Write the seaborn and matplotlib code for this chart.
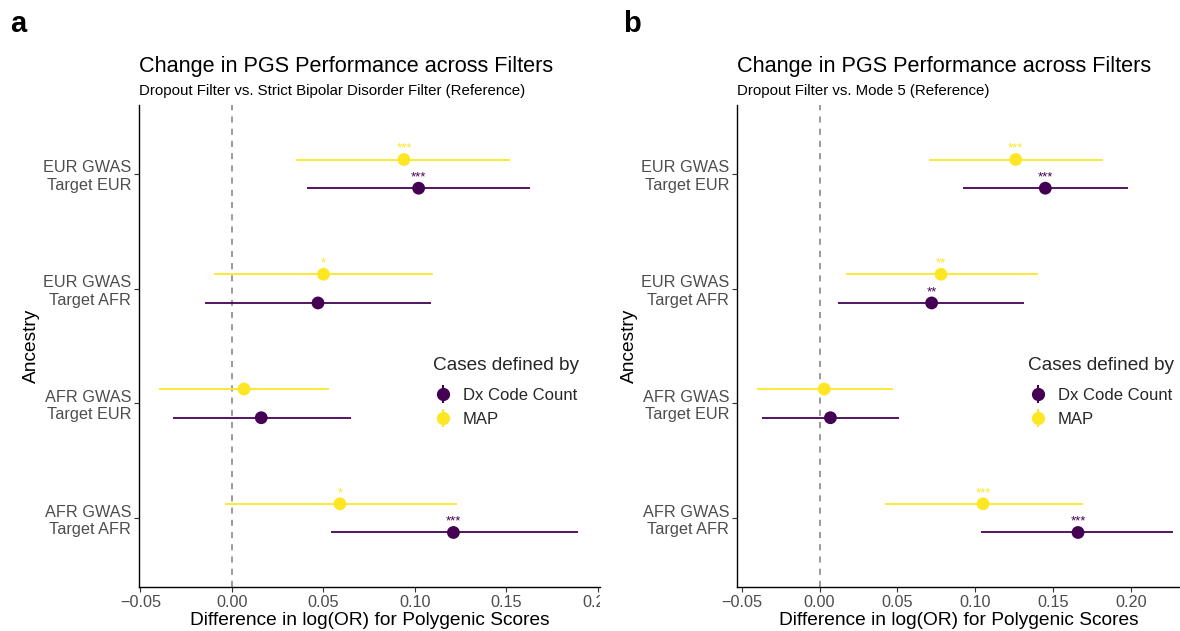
import numpy as np
import pandas as pd
import matplotlib
matplotlib.use("Agg")
import matplotlib.pyplot as plt
import seaborn as sns
from matplotlib.lines import Line2D
from matplotlib.legend_handler import HandlerTuple
from matplotlib.transforms import Bbox, TransformedBbox

sns.set_theme(style="white")
plt.rcParams['font.family'] = ['Liberation Sans', 'DejaVu Sans']

# ---------------- data ----------------
ancestry = ["EUR GWAS\nTarget EUR", "EUR GWAS\nTarget AFR", "AFR GWAS\nTarget EUR", "AFR GWAS\nTarget AFR"]
groups = ["Dx Code Count", "MAP"]

# panel a: Dropout vs Strict Bipolar Disorder Filter
a_dx_est = [0.102, 0.047, 0.016, 0.121]
a_dx_lo = [0.041, -0.015, -0.032, 0.054]
a_dx_hi = [0.163, 0.109, 0.065, 0.189]
a_dx_sig = ["***", "", "", "***"]
a_map_est = [0.094, 0.050, 0.0066, 0.059]
a_map_lo = [0.035, -0.010, -0.040, -0.004]
a_map_hi = [0.152, 0.110, 0.053, 0.123]
a_map_sig = ["***", "*", "", "*"]

# panel b: Dropout vs Mode 5
b_dx_est = [0.145, 0.072, 0.007, 0.166]
b_dx_lo = [0.092, 0.012, -0.037, 0.104]
b_dx_hi = [0.198, 0.131, 0.051, 0.227]
b_dx_sig = ["***", "**", "", "***"]
b_map_est = [0.126, 0.078, 0.003, 0.105]
b_map_lo = [0.070, 0.017, -0.040, 0.042]
b_map_hi = [0.182, 0.140, 0.047, 0.169]
b_map_sig = ["***", "**", "", "***"]

x_ticks_a = [-0.05, 0.00, 0.05, 0.10, 0.15, 0.20]
x_tick_labels_a = ["\u22120.05", "0.00", "0.05", "0.10", "0.15", "0.20"]
x_ticks_b = [-0.05, 0.00, 0.05, 0.10, 0.15, 0.20]
x_tick_labels_b = ["\u22120.05", "0.00", "0.05", "0.10", "0.15", "0.20"]

palette = {"Dx Code Count": "#440154", "MAP": "#FDE725"}
dodge = {"Dx Code Count": -0.125, "MAP": 0.125}


def make_df(dx_est, dx_lo, dx_hi, dx_sig, map_est, map_lo, map_hi, map_sig):
    rows = []
    for i, anc in enumerate(ancestry):
        rows.append(dict(ancestry=anc, group="Dx Code Count", est=dx_est[i], lo=dx_lo[i], hi=dx_hi[i], sig=dx_sig[i]))
        rows.append(dict(ancestry=anc, group="MAP", est=map_est[i], lo=map_lo[i], hi=map_hi[i], sig=map_sig[i]))
    df = pd.DataFrame(rows)
    n = len(ancestry)
    df["ypos"] = [n - 1 - ancestry.index(a) + dodge[g] for a, g in zip(df.ancestry, df.group)]
    return df


W, H = 1180, 631
fig = plt.figure(figsize=(W / 100, H / 100), dpi=100)

grey30 = "#4D4D4D"
AX_TOP, AX_BOT = 105, 587
AX_H = AX_BOT - AX_TOP


def draw_panel(rect, df, xlim, xticks, xticklabels, subtitle, letter, letter_x, legend_x, clip_right):
    ax = fig.add_axes(rect)
    for g in groups:
        d = df[df.group == g]
        ax.hlines(d.ypos, d.lo, d.hi, colors=palette[g], lw=1.4, alpha=0.92, zorder=2)
    sns.scatterplot(data=df, x="est", y="ypos", hue="group", palette=palette, s=85,
                    edgecolor="none", legend=False, ax=ax, zorder=3)
    for _, r in df.iterrows():
        if r.sig:
            ax.text(r.est, r.ypos + 0.067, r.sig, color=palette[r.group], ha="center",
                    va="baseline", fontsize=9.5)
    ax.axvline(0, color="#7F7F7F", ls=(0, (4, 4)), lw=1.1, zorder=1)
    ax.set_xlim(*xlim)
    ax.set_ylim(-0.6, len(ancestry) - 1 + 0.6)
    ax.set_yticks(range(len(ancestry)))
    ax.set_yticklabels(ancestry[::-1], fontsize=11.7, color=grey30, linespacing=1.2)
    ax.set_xticks(xticks)
    ax.set_xticklabels(xticklabels, fontsize=11.7, color=grey30)
    ax.tick_params(axis="both", length=3.5, width=0.8, color="#333333", left=True, bottom=True, pad=2)
    for s in ["top", "right"]:
        ax.spines[s].set_visible(False)
    for s in ["left", "bottom"]:
        ax.spines[s].set_color("black")
        ax.spines[s].set_linewidth(1.0)
    ax.set_xlabel("Difference in log(OR) for Polygenic Scores", fontsize=13.8, color="black", labelpad=2)
    ax.set_ylabel("Ancestry", fontsize=13.8, color="black", labelpad=2)
    ax.text(0, 1.0 + 33 / AX_H, "Change in PGS Performance across Filters", transform=ax.transAxes,
            fontsize=15.6, ha="left", va="baseline", color="black")
    ax.text(0, 1.0 + 10 / AX_H, subtitle, transform=ax.transAxes,
            fontsize=10.8, ha="left", va="baseline", color="black")
    fig.text(letter_x / W, 1 - 24 / H, letter, fontsize=21, fontweight="bold", ha="left", va="center",
             color="black")

    handles = []
    for g in groups:
        h1 = Line2D([], [], color=palette[g], marker="|", markersize=13, markeredgewidth=1.5, linestyle="none")
        h2 = Line2D([], [], color=palette[g], marker="o", markersize=8.5, linestyle="none")
        handles.append((h1, h2))
    leg = ax.legend(handles, groups, handler_map={tuple: HandlerTuple(ndivide=1)},
                    title="Cases defined by", loc="upper left",
                    bbox_to_anchor=(legend_x, (AX_BOT - 357) / AX_H),
                    frameon=False, fontsize=12, title_fontsize=13.7, borderaxespad=0, borderpad=0,
                    handlelength=1.2, handletextpad=0.6, labelspacing=0.55)
    leg._legend_box.align = "left"
    leg._legend_box.sep = 10

    if clip_right is not None:
        clipbox = TransformedBbox(Bbox([[0, 0], [clip_right / W, 1]]), fig.transFigure)
        for lbl in ax.get_xticklabels():
            lbl.set_clip_box(clipbox)
            lbl.set_clip_on(True)
    return ax


df_a = make_df(a_dx_est, a_dx_lo, a_dx_hi, a_dx_sig, a_map_est, a_map_lo, a_map_hi, a_map_sig)
df_b = make_df(b_dx_est, b_dx_lo, b_dx_hi, b_dx_sig, b_map_est, b_map_lo, b_map_hi, b_map_sig)

bottom = (H - AX_BOT) / H
height = AX_H / H
draw_panel([139 / W, bottom, 461 / W, height], df_a, (-0.0508, 0.2011), x_ticks_a, x_tick_labels_a,
           "Dropout Filter vs. Strict Bipolar Disorder Filter (Reference)", "a", 10, 0.638, 600)
draw_panel([737 / W, bottom, 443 / W, height], df_b, (-0.053, 0.2315), x_ticks_b, x_tick_labels_b,
           "Dropout Filter vs. Mode 5 (Reference)", "b", 623, 0.657, None)

fig.savefig("out.png", dpi=100)
